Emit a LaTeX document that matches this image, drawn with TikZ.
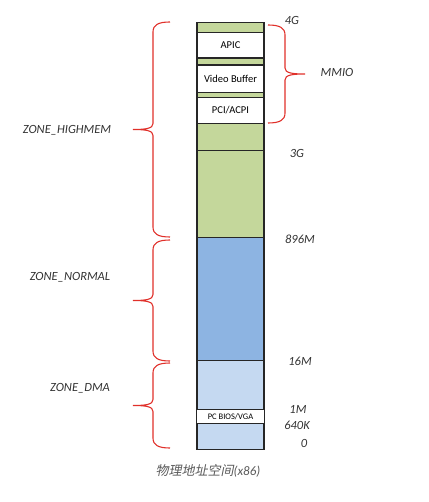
\documentclass[tikz,border=0pt]{standalone}
\usepackage{fontspec}
\setmainfont{Carlito}
\newfontfamily\cjkfont[FakeSlant=0.2]{Noto Sans CJK SC}
\usetikzlibrary{positioning,calc}
\definecolor{memgreen}{HTML}{C4D79B}
\definecolor{memblue}{HTML}{8DB4E2}
\definecolor{memlight}{HTML}{C5D9F1}
\definecolor{bracered}{HTML}{E0302A}

\begin{document}
\begin{tikzpicture}[x=1pt,y=-1pt,node distance=0pt,
  seg/.style={draw=black!85,line width=1.2pt,minimum width=67pt,inner sep=0pt,outer sep=0pt,font=\fontsize{10.5}{12}\selectfont},
  addr/.style={font=\fontsize{12.5}{14}\selectfont\itshape,text=black!80},
  redline/.style={draw=bracered,line width=1.1pt},
  % brace from top to bottom, #1 = -1 (open left) or 1 (open right)
  zbrace/.style={to path={
    let \p1=(\tikztostart),\p2=(\tikztotarget),\p3=($(\tikztostart)!0.5!(\tikztotarget)$) in
    (\p1) .. controls ({\x1+#1*12pt},\y1) and ({\x1+#1*17pt},{\y1-3pt}) .. ({\x1+#1*17pt},{\y1-10pt})
    -- ({\x1+#1*17pt},{\y3+6pt}) .. controls ({\x1+#1*17pt},{\y3+1pt}) and ({\x1+#1*24pt},\y3) .. ({\x1+#1*37pt},\y3)
    .. controls ({\x1+#1*24pt},\y3) and ({\x1+#1*17pt},{\y3-1pt}) .. ({\x1+#1*17pt},{\y3-6pt})
    -- ({\x1+#1*17pt},{\y2+10pt}) .. controls ({\x1+#1*17pt},{\y2+3pt}) and ({\x1+#1*12pt},\y2) .. (\p2)}}]
\useasboundingbox (0,0) rectangle (428,502);
% memory column, top to bottom
\node[seg,fill=memgreen,minimum height=10pt,anchor=north] (top) at (230.5,22.3) {};
\node[seg,fill=white,minimum height=25.8pt,below=of top] (apic) {APIC};
\node[seg,fill=memgreen,minimum height=7pt,below=of apic] (gapa) {};
\node[seg,fill=white,minimum height=27.5pt,below=of gapa] (video) {Video Buffer};
\node[seg,fill=memgreen,minimum height=4.7pt,below=of video] (gapb) {};
\node[seg,fill=white,minimum height=26pt,below=of gapb] (pci) {PCI/ACPI};
\node[seg,fill=memgreen,minimum height=27.5pt,below=of pci] (high) {};
\node[seg,fill=memgreen,minimum height=87pt,below=of high] (low) {};
\node[seg,fill=memblue,minimum height=123pt,below=of low] (normal) {};
\node[seg,fill=memlight,minimum height=48.3pt,below=of normal] (dma) {};
\node[seg,fill=white,minimum height=14.3pt,minimum width=68pt,below=of dma,font=\fontsize{8.5}{10}\selectfont] (bios) {PC BIOS/VGA};
\node[seg,fill=memlight,minimum height=26pt,below=of bios] (base) {};
% addresses
\node[addr] (a4g) at (292,20) {4G};
\node[addr] (a3g) at (297,153) {3G};
\node[addr] (a896) at (300,239) {896M};
\node[addr] (a16) at (300,361) {16M};
\node[addr] (a1m) at (298,409) {1M};
\node[addr] (a640) at (297,425) {640K};
\node[addr] (a0) at (304,443) {0};
% braces
\coordinate (mmiotop) at (268,25);
\coordinate (mmiobot) at (268,123);
\draw[redline] (mmiotop) to[zbrace=1] (mmiobot);
\node[addr] (mmio) at (337,72) {MMIO};
\coordinate (hightop) at (170,22);
\coordinate (highbot) at (170,237);
\draw[redline] (hightop) to[zbrace=-1] (highbot);
\node[addr] (zhigh) at (67,130) {ZONE\_HIGHMEM};
\coordinate (normtop) at (170,240);
\coordinate (normbot) at (170,361);
\draw[redline] (normtop) to[zbrace=-1] (normbot);
\node[addr] (znorm) at (70,277) {ZONE\_NORMAL};
\coordinate (dmatop) at (170,363);
\coordinate (dmabot) at (170,448);
\draw[redline] (dmatop) to[zbrace=-1] (dmabot);
\node[addr] (zdma) at (80,388) {ZONE\_DMA};
\node[font=\fontsize{13}{15}\selectfont\itshape,text=black!65] (caption) at (208,471) {{\cjkfont 物理地址空间}(x86)};
\end{tikzpicture}
\end{document}
